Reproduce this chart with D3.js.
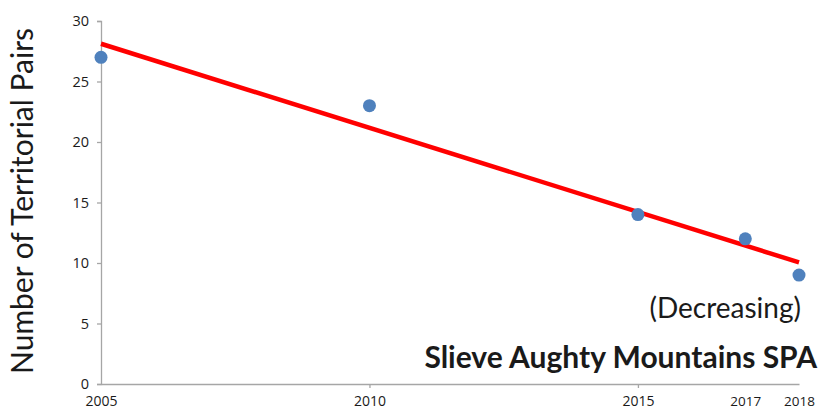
<!DOCTYPE html>
<html>
<head>
<meta charset="utf-8">
<script src="https://cdn.jsdelivr.net/npm/d3@7"></script>
<style>
  body { margin: 0; background: #fff; }
  text { fill: #1a1a1a; }
</style>
</head>
<body>
<svg id="chart" width="818" height="410"></svg>
<script>
// survey data
const years = [2005, 2010, 2015, 2017, 2018]
const pairs = [27, 23, 14, 12, 9]
const yTicks = [0, 5, 10, 15, 20, 25, 30]

const svg = d3.select("#chart")
const m = {left: 101, right: 19, top: 21, bottom: 26}
const w = 818 - m.left - m.right
const h = 410 - m.top - m.bottom

const x = d3.scaleLinear().domain([2005, 2018]).range([0, w])
const y = d3.scaleLinear().domain([0, 30]).range([h, 0])

const g = svg.append("g").attr("transform", `translate(${m.left},${m.top})`)

// y axis
const yAxis = d3.axisLeft(y).tickValues(yTicks).tickSizeOuter(0).tickSize(4).tickPadding(8)
const ya = g.append("g").call(yAxis)
ya.selectAll("text").style("font-family", "Open Sans").style("font-size", "14.5px").attr("fill", "#1a1a1a")

// x axis, small ticks only at 2010/2015
const xAxis = d3.axisBottom(x).tickValues(years).tickFormat(d3.format("d")).tickSizeOuter(0).tickSize(0).tickPadding(12)
const xa = g.append("g").attr("transform", `translate(0,${h})`).call(xAxis)
xa.selectAll(".tick line").attr("y2", d => d == 2010 || d == 2015 ? 4 : 0)
xa.selectAll("text").style("font-family", "Open Sans")
  .style("font-size", d => d > 2015 ? "13.5px" : "14px").attr("fill", "#1a1a1a")

svg.selectAll(".domain, .tick line").attr("stroke", "#a6a6a6").attr("stroke-width", 1.3)

// linear trend (least squares)
const mx = d3.mean(years), my = d3.mean(pairs)
const slope = d3.sum(years, (v, i) => (v - mx) * (pairs[i] - my)) / d3.sum(years, v => (v - mx) ** 2)
const fit = xv => my + slope * (xv - mx)
g.append("line")
  .attr("x1", x(2005)).attr("y1", y(fit(2005)))
  .attr("x2", x(2018)).attr("y2", y(fit(2018)))
  .attr("stroke", "#ff0000").attr("stroke-width", 4.5)

// points
g.selectAll("circle").data(years).join("circle")
  .attr("cx", d => x(d)).attr("cy", (d, i) => y(pairs[i]))
  .attr("r", 6.5).attr("fill", "#4f81bd")

// y label
svg.append("text")
  .attr("transform", `translate(33,201) rotate(-90)`)
  .attr("text-anchor", "middle")
  .style("font-family", "Lato").style("font-size", "30px")
  .text("Number of Territorial Pairs")

svg.append("text")
  .attr("x", 801).attr("y", 318).attr("text-anchor", "end")
  .style("font-family", "Lato").style("font-size", "28px")
  .text("(Decreasing)")

svg.append("text")
  .attr("x", 817).attr("y", 368).attr("text-anchor", "end")
  .style("font-family", "Lato").style("font-size", "30px").style("font-weight", "bold")
  .text("Slieve Aughty Mountains SPA")
</script>
</body>
</html>
